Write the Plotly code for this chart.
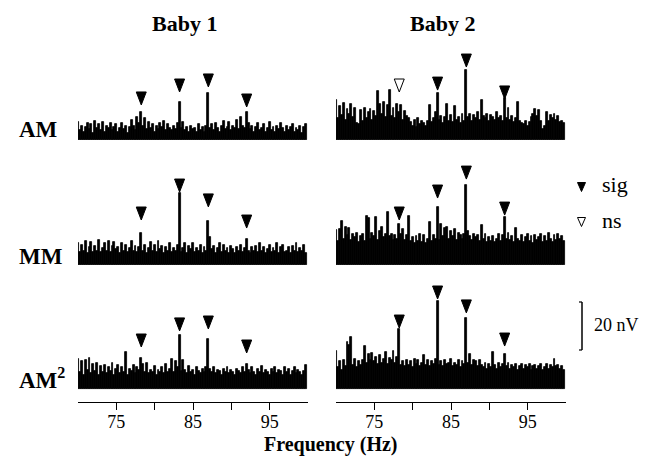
import numpy as np
import plotly.graph_objects as go

W, H = 656, 468
F0, BIN_HZ = 70.0, 0.25

# ---- spectra (amplitude in nV, 0.25 Hz bins from 70 Hz) ----
b1_am = [7.5, 4.0, 6.0, 3.5, 5.5, 7.0, 4.5, 6.5, 3.0, 8.0,
         5.0, 6.5, 4.0, 7.5, 3.5, 6.0, 5.0, 7.0, 4.0, 5.5,
         6.5, 3.5, 5.0, 7.0, 4.5, 6.0, 3.0, 5.5, 8.5, 6.0,
         4.0, 9.5, 7.0, 11.5, 6.0, 9.0, 4.5, 7.5, 5.0, 6.5,
         3.5, 6.0, 4.5, 7.0, 5.5, 8.0, 4.0, 6.5, 5.0, 4.0,
         6.0, 4.5, 7.0, 16.0, 5.0, 7.5, 4.0, 5.5, 3.5, 6.0,
         4.5, 5.0, 3.5, 6.5, 4.0, 5.5, 3.5, 6.0, 19.5, 5.0,
         6.5, 4.0, 7.0, 5.0, 3.5, 6.0, 8.0, 4.5, 5.5, 7.5,
         4.0, 6.0, 5.0, 8.5, 4.5, 9.5, 6.0, 5.0, 11.5, 7.0,
         4.5, 6.0, 3.5, 5.5, 7.0, 4.0, 5.0, 6.5, 3.5, 5.0,
         7.5, 4.0, 5.5, 3.5, 6.0, 4.5, 7.0, 5.0, 3.5, 6.0,
         4.0, 5.5, 6.5, 3.5, 5.0, 4.0, 6.0, 3.0, 5.5, 6.5]
b1_mm = [9.0, 5.5, 8.5, 6.0, 10.0, 5.0, 7.5, 9.5, 5.5, 8.0,
         6.0, 10.5, 5.5, 7.0, 9.0, 6.0, 10.0, 5.5, 8.0, 9.5,
         6.5, 7.5, 5.0, 9.0, 6.0, 8.5, 5.5, 7.0, 10.0, 6.0,
         8.0, 5.5, 7.5, 13.5, 6.0, 8.5, 5.0, 7.0, 9.5, 6.0,
         8.5, 5.5, 10.0, 6.5, 8.0, 5.0, 7.5, 6.0, 9.0, 5.5,
         7.0, 6.0, 8.5, 30.0, 5.5, 7.0, 9.0, 5.0, 8.0, 6.5,
         9.0, 5.5, 7.0, 6.0, 8.5, 5.0, 7.5, 6.0, 18.5, 11.5,
         6.5, 8.0, 5.0, 7.0, 9.0, 5.5, 8.5, 6.0, 7.0, 5.0,
         8.0, 6.5, 5.0, 7.5, 6.0, 8.5, 5.5, 7.0, 11.0, 6.0,
         5.0, 7.5, 6.0, 8.0, 5.5, 9.0, 6.0, 7.5, 5.0, 6.5,
         8.5, 5.5, 7.0, 6.0, 9.0, 5.0, 7.5, 8.5, 5.5, 6.0,
         7.5, 5.0, 8.0, 6.0, 9.0, 5.5, 7.0, 6.0, 8.5, 5.0]
b1_am2 = [12.5, 7.0, 11.5, 6.0, 12.0, 8.0, 13.0, 6.5, 10.5, 7.5,
          11.0, 6.0, 9.5, 7.0, 10.0, 6.5, 9.0, 7.5, 11.0, 6.0,
          8.5, 10.0, 6.5, 9.0, 7.0, 15.5, 6.0, 8.5, 7.5, 10.0,
          6.5, 9.0, 8.0, 13.0, 10.5, 7.0, 11.0, 6.5, 8.0, 7.0,
          9.5, 6.0, 8.0, 7.0, 9.0, 6.5, 10.5, 7.0, 8.5, 12.5,
          7.0, 11.5, 9.0, 22.5, 7.5, 12.0, 8.0, 6.5, 9.5, 7.0,
          8.0, 6.0, 9.0, 7.5, 6.5, 8.5, 7.0, 9.0, 21.0, 8.5,
          7.0, 9.0, 6.5, 8.0, 7.5, 6.0, 8.5, 7.0, 9.0, 6.5,
          8.0, 7.0, 6.0, 8.5, 7.5, 6.5, 9.0, 7.0, 10.5, 8.0,
          6.5, 9.0, 7.0, 6.0, 8.5, 7.0, 9.5, 6.5, 8.0, 7.0,
          6.0, 8.5, 7.0, 9.0, 6.5, 8.0, 7.5, 6.0, 9.0, 7.0,
          8.5, 6.0, 7.5, 9.0, 6.5, 8.0, 7.0, 6.0, 7.5, 10.0]
b2_am = [16.5, 9.0, 14.0, 10.5, 15.5, 8.5, 13.0, 11.0, 15.0, 9.5, 13.5,
         7.0, 6.5,
         12.5, 8.0, 13.5, 9.0, 11.5, 13.0, 8.5, 12.0,
         10.0, 20.5,
         15.0, 11.0, 16.0, 9.5, 14.5,
         21.0,
         10.0, 13.5, 9.0, 15.0, 11.5, 14.5, 8.5, 12.0, 10.0, 9.0,
         7.5, 6.0, 8.5, 5.5, 9.0, 6.5, 8.0, 7.0,
         6.0, 8.0, 14.5, 7.5, 9.0, 11.5, 19.5,
         8.5, 10.0, 7.0, 9.5, 15.0, 8.0,
         10.5, 7.5, 14.0, 8.5, 9.5, 7.0, 11.0, 8.0,
         29.0,
         9.5, 11.0, 8.0, 10.5, 9.0, 11.5, 8.5,
         16.5, 10.0,
         9.0, 11.0, 8.0, 10.5, 9.5, 8.5, 11.5, 9.0, 10.0, 8.0,
         17.5, 9.0, 13.5, 8.5, 10.0, 7.5, 9.0,
         16.0, 8.0, 7.0, 6.5, 8.0, 6.0, 7.5,
         9.5, 11.0, 13.0, 10.0,
         12.5, 8.0, 4.5, 6.0,
         11.5, 8.0, 10.5, 9.0, 11.0, 8.5, 10.0, 7.5,
         8.0, 7.0]
b2_mm = [14.5, 10.0, 15.0, 18.5,
         11.0, 16.0, 12.5, 15.5, 10.5, 13.0,
         11.5, 13.5, 9.5, 12.0, 13.0, 10.0,
         20.5, 19.5, 11.0, 13.5,
         12.0, 20.0, 10.5, 14.0, 16.0, 11.5,
         13.0, 22.0, 12.0, 13.0, 10.5, 12.5,
         11.0, 17.0, 13.0, 15.0, 10.5, 12.5,
         20.5, 10.0, 11.5, 9.0, 12.0, 10.0,
         13.0, 9.5, 12.5, 9.0, 11.0, 18.0,
         10.0, 12.5, 11.0, 24.0, 10.5, 17.0,
         12.0, 15.5, 16.0, 11.0, 14.0, 12.0,
         15.0, 10.5, 13.5, 12.5, 11.0, 13.0,
         33.5, 14.0, 12.0, 10.5, 13.0, 11.5,
         12.5, 10.0, 16.5, 11.0, 13.0, 9.5,
         11.5, 10.0, 12.0, 9.5, 11.0, 13.0,
         10.0, 12.5, 20.0, 11.0, 13.5, 10.5,
         12.0, 9.5, 15.5, 11.0, 10.0, 12.5,
         9.5, 11.5, 13.0, 10.0, 12.0, 9.0,
         12.5, 10.5, 11.5, 13.0, 9.5, 12.0,
         10.0, 13.5, 11.0, 9.5, 12.5, 10.5,
         13.0, 11.0, 12.0, 10.0]
b2_am2 = [16.0, 9.0, 11.5, 8.0, 12.0, 9.5,
          19.5, 18.5, 21.5, 10.0, 12.5, 9.0,
          11.5, 10.0, 12.0, 18.0, 11.0, 14.5,
          12.0, 15.0, 11.5, 13.5, 10.5, 14.0,
          11.0, 12.5, 15.5, 10.5, 13.0, 12.0,
          16.0, 11.0, 13.5, 25.0, 10.0, 11.5,
          9.5, 12.0, 10.0, 11.5, 9.0, 12.5,
          10.5, 12.0, 9.5, 11.0, 14.0, 10.0,
          12.0, 9.5, 11.5, 10.5, 12.5, 36.5,
          10.0, 11.5, 9.5, 12.0, 10.5, 11.0,
          12.5, 9.5, 11.0, 10.0, 12.0, 9.0,
          11.5, 10.5, 29.5, 11.0, 14.5, 10.0,
          12.0, 11.5, 9.5, 12.0, 10.0, 9.0,
          11.0, 8.5, 10.5, 9.0, 15.5, 10.0,
          8.5, 11.0, 9.0, 10.5, 14.5, 9.5,
          11.0, 8.5, 10.0, 9.0, 10.5, 8.0,
          9.5, 10.5, 8.5, 10.0, 9.0, 10.5,
          8.0, 9.5, 10.0, 8.5, 9.5, 10.5,
          8.0, 9.0, 10.5, 8.5, 10.0, 9.0,
          12.5, 9.5, 10.0, 8.5, 9.5, 8.0]

# ---- marked response frequencies and marker tip levels (nV) ----
peak_freqs = [78.25, 83.25, 87.0, 92.0]
b1_am_tips = [14.6, 20.0, 22.1, 13.75]
b1_mm_tips = [18.75, 30.4, 24.2, 15.4]
b1_am2_tips = [17.5, 24.2, 25.0, 15.0]
b2_am_tips = [20.0, 20.8, 30.4, 17.1]
b2_mm_tips = [18.75, 27.9, 35.8, 20.8]
b2_am2_tips = [25.4, 37.5, 31.7, 17.9]
b1_am_sig = [True, True, True, True]
b1_mm_sig = [True, True, True, True]
b1_am2_sig = [True, True, True, True]
b2_am_sig = [False, True, True, True]
b2_mm_sig = [True, True, True, True]
b2_am2_sig = [True, True, True, True]

babies = ["Baby 1", "Baby 2"]
conditions = ["AM", "MM", "AM<sup>2</sup>"]
tick_vals = [75, 85, 95]
tick_text = ["75", "85", "95"]
minor_tick_vals = [80, 90]
x_range = [70, 100]
scale_nv = 20
legend_labels = ["sig", "ns"]

spectra = [[b1_am, b2_am], [b1_mm, b2_mm], [b1_am2, b2_am2]]
tips = [[b1_am_tips, b2_am_tips], [b1_mm_tips, b2_mm_tips], [b1_am2_tips, b2_am2_tips]]
sigs = [[b1_am_sig, b2_am_sig], [b1_mm_sig, b2_mm_sig], [b1_am2_sig, b2_am2_sig]]

# ---- geometry (pixels) ----
col_px = [(78, 308), (336, 566)]
row_px = [(30, 140), (155, 265), (279, 402)]
base_px = [140, 265, 389]
PX_PER_NV = 2.4
PX_PER_HZ = (col_px[0][1] - col_px[0][0]) / (x_range[1] - x_range[0])
TRI_HALF_W = 5.0 / PX_PER_HZ
TRI_H = 13.0 / PX_PER_NV

SERIF = "Liberation Serif"


def px_x(p):
    return p / W


def px_y(p):
    return 1 - p / H


def label(text, x, y, size, xanchor="center", bold=False):
    return dict(text=f"<b>{text}</b>" if bold else text,
                x=px_x(x), y=px_y(y), xref="paper", yref="paper",
                xanchor=xanchor, yanchor="middle", showarrow=False,
                font=dict(family=SERIF, size=size, color="black"))


fig = go.Figure()
layout = dict(
    width=W, height=H, margin=dict(l=0, r=0, t=0, b=0),
    paper_bgcolor="white", plot_bgcolor="rgba(0,0,0,0)",
    showlegend=False, bargap=0,
    font=dict(family=SERIF, color="black"),
)
shapes = []
annotations = []

for r in range(3):
    for c in range(2):
        k = r * 2 + c + 1
        xa = "x" if k == 1 else f"x{k}"
        ya = "y" if k == 1 else f"y{k}"
        vals = spectra[r][c]
        freqs = F0 + BIN_HZ * np.arange(len(vals))
        fig.add_trace(go.Bar(
            x=freqs, y=vals, width=BIN_HZ, xaxis=xa, yaxis=ya,
            marker=dict(color="black", line=dict(width=0.8, color="black")),
            hoverinfo="skip"))
        top, bot = row_px[r]
        ymin = -(bot - base_px[r]) / PX_PER_NV
        ymax = (base_px[r] - top) / PX_PER_NV
        xdict = dict(domain=[px_x(col_px[c][0]), px_x(col_px[c][1])],
                     range=x_range, anchor=ya, fixedrange=True,
                     showgrid=False, zeroline=False)
        if r == 2:
            xdict.update(showline=True, linecolor="black", linewidth=1.2,
                         ticks="outside", ticklen=7, tickwidth=1.2,
                         tickcolor="black", tickvals=tick_vals,
                         ticktext=tick_text, ticklabelstandoff=-4,
                         minor=dict(tickvals=minor_tick_vals, ticks="outside",
                                    ticklen=7, tickwidth=1.2, tickcolor="black",
                                    showgrid=False),
                         tickfont=dict(family=SERIF, size=18, color="black"))
        else:
            xdict.update(visible=False)
        ydict = dict(domain=[px_y(bot), px_y(top)], range=[ymin, ymax],
                     anchor=xa, visible=False, fixedrange=True)
        layout["xaxis" if k == 1 else f"xaxis{k}"] = xdict
        layout["yaxis" if k == 1 else f"yaxis{k}"] = ydict

        for f, tip, s in zip(peak_freqs, tips[r][c], sigs[r][c]):
            path = (f"M {f - TRI_HALF_W},{tip + TRI_H} L {f + TRI_HALF_W},{tip + TRI_H} "
                    f"L {f},{tip} Z")
            shapes.append(dict(type="path", path=path, xref=xa, yref=ya,
                               fillcolor="black" if s else "white",
                               line=dict(color="black", width=1)))

# column titles
for c, name in enumerate(babies):
    annotations.append(label(name, sum(col_px[c]) / 2 - 9, 23, 22, bold=True))
# row labels
row_label_y = [129, 256, 378]
for r, name in enumerate(conditions):
    annotations.append(label(name, 17, row_label_y[r], 23, xanchor="left", bold=True))
# x title
annotations.append(label("Frequency (Hz)", 331, 444, 20, bold=True))

# legend
leg_y = [187, 222]
for i, lab in enumerate(legend_labels):
    cy = leg_y[i]
    x0, x1, xm = px_x(577.5), px_x(585.5), px_x(581.5)
    yt, yb = px_y(cy - 4.5), px_y(cy + 4.5)
    shapes.append(dict(type="path", xref="paper", yref="paper",
                       path=f"M {x0},{yt} L {x1},{yt} L {xm},{yb} Z",
                       fillcolor="black" if i == 0 else "white",
                       line=dict(color="black", width=1)))
    annotations.append(label(lab, 600, cy - 2, 22, xanchor="left"))

# scale bar (20 nV on the AM2 scale)
sb_x, sb_x0 = px_x(582), px_x(579)
sb_base = 16.25
shapes.append(dict(type="line", xref="paper", yref="y6", x0=sb_x, x1=sb_x,
                   y0=sb_base, y1=sb_base + scale_nv, line=dict(color="black", width=1.5)))
for yy in (sb_base, sb_base + scale_nv):
    shapes.append(dict(type="line", xref="paper", yref="y6", x0=sb_x0, x1=sb_x,
                       y0=yy, y1=yy, line=dict(color="black", width=1.2)))
annotations.append(label(f"{scale_nv} nV", 592, 325, 18, xanchor="left"))

layout["shapes"] = shapes
layout["annotations"] = annotations
fig.update_layout(**layout)
fig.write_html("out.html")
